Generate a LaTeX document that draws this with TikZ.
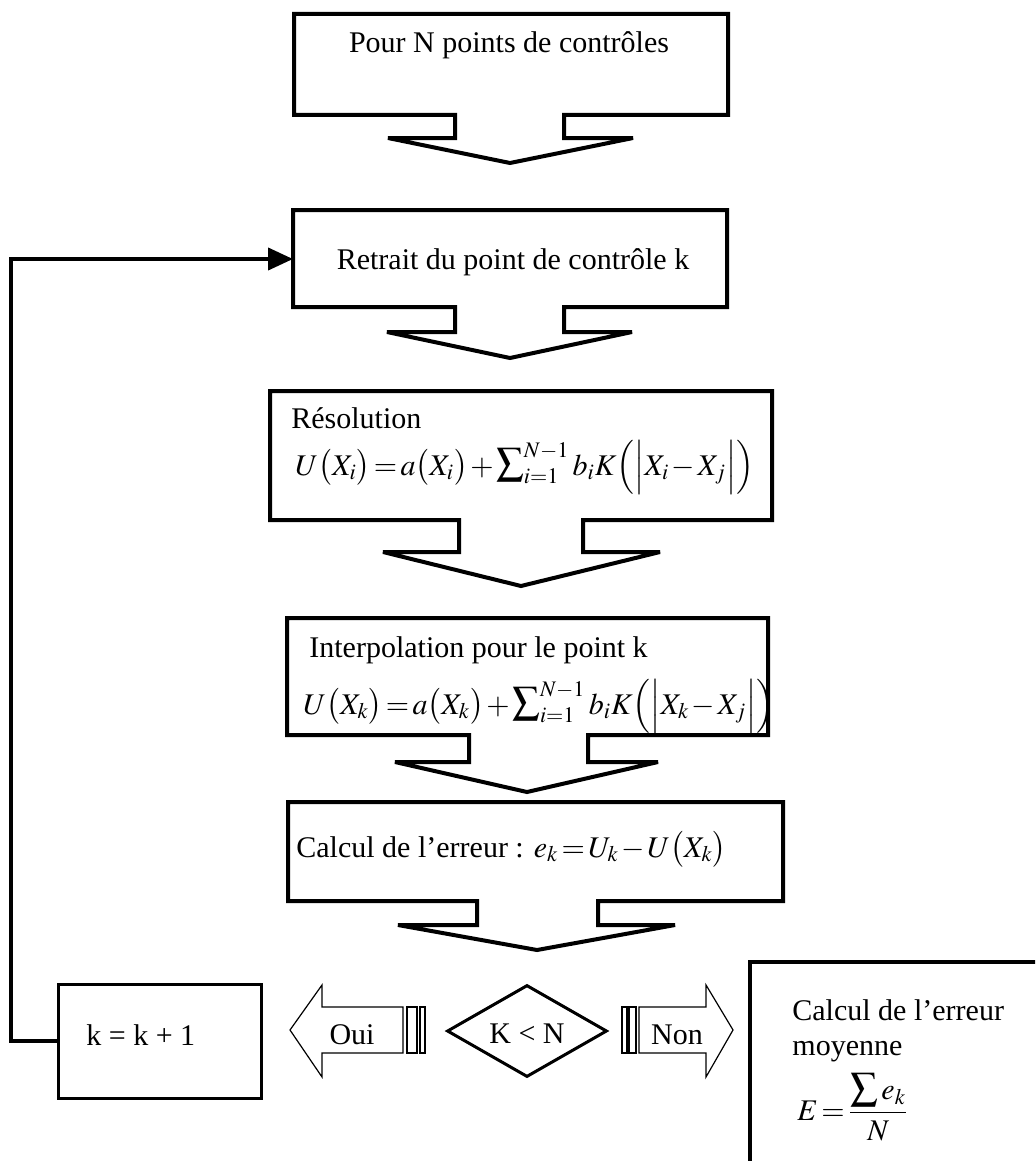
\documentclass[tikz,border=0pt]{standalone}
\usepackage{mathptmx}
\usepackage{fontspec}
\setmainfont{Liberation Serif}
\usetikzlibrary{arrows.meta,shapes.geometric}

% tighter relation and operator spacing for the formulas
\newcommand{\tightmath}{\thickmuskip=2mu\medmuskip=1.5mu}
\newcommand{\bigsum}{\mathop{\scalebox{1.3}{$\sum$}}}

\begin{document}
\begin{tikzpicture}[x=0.5pt,y=-0.5pt,
  flow/.style={line width=2pt, line join=miter, miter limit=3},
  txt/.style={font=\fontsize{15pt}{18pt}\selectfont, inner sep=0pt},
  stripe/.style={line width=0.6pt, line join=miter},
]
\useasboundingbox (0,0) rectangle (1035,1161);
\clip (0,0) rectangle (1035,1161);

% --- process boxes with their built-in down arrows ---
\draw[flow] (294,14) -- (728,14) -- (728,115) -- (564,115) -- (564,138) -- (633,138)
  -- (510,163) -- (388,138) -- (455,138) -- (455,115) -- (294,115) -- cycle;
\node[txt, anchor=base] (init) at (509,53) {Pour N points de contrôles};

\draw[flow] (293,210) -- (727,210) -- (727,307) -- (564,307) -- (564,332) -- (632,332)
  -- (510,358) -- (387,332) -- (455,332) -- (455,307) -- (293,307) -- cycle;
\node[txt, anchor=base] (remove) at (513,269) {Retrait du point de contrôle k};
\coordinate (b2w) at (293,259);

\draw[flow] (270,391) -- (772,391) -- (772,520) -- (583,520) -- (583,552) -- (660,552)
  -- (521,586) -- (383,552) -- (459,552) -- (459,520) -- (270,520) -- cycle;
\node[txt, anchor=base west] (solve) at (291,428) {Résolution};
\node[txt, anchor=base west] (solveeq) at (295,475)
  {$\tightmath U\bigl(X_{i}\bigr)=a\bigl(X_{i}\bigr)+\bigsum\nolimits_{i=1}^{N-1} b_{i}K\Bigl(\Bigl|X_{i}-X_{j}\Bigr|\Bigr)$};

\draw[flow] (287,618) -- (768,618) -- (768,735) -- (588,735) -- (588,762) -- (658,762)
  -- (527,792) -- (395,762) -- (469,762) -- (469,735) -- (287,735) -- cycle;
\node[txt, anchor=base west] (interp) at (309,657) {Interpolation pour le point k};
\node[txt, anchor=base west] (interpeq) at (303,714)
  {$\tightmath U\bigl(X_{k}\bigr)=a\bigl(X_{k}\bigr)+\bigsum\nolimits_{i=1}^{N-1} b_{i}K\Bigl(\Bigl|X_{k}-X_{j}\Bigr|\Bigr)$};

\draw[flow] (288,802) -- (783,802) -- (783,901) -- (598,901) -- (598,925) -- (675,925)
  -- (537,950) -- (398,925) -- (477,925) -- (477,901) -- (288,901) -- cycle;
\node[txt, anchor=base west] (err) at (296,857)
  {Calcul de l’erreur : $\tightmath e_{k}=U_{k}-U\bigl(X_{k}\bigr)$};

% --- decision ---
\node[draw, diamond, line width=1.5pt, minimum width=80pt, minimum height=46pt, inner sep=0pt]
  (test) at (527,1031) {};
\node[txt, anchor=base] (testtxt) at (527,1043) {K < N};

% --- striped arrows ---
\draw[stripe] (290,1030) -- (322,985) -- (322,1007) -- (403,1007) -- (403,1053)
  -- (322,1053) -- (322,1077) -- cycle;
\draw[stripe] (407,1007) rectangle (417,1053);
\draw[stripe] (420,1007) rectangle (425,1053);
\node[txt, anchor=base] (oui) at (352,1044) {Oui};

\draw[stripe] (733,1030) -- (706,985) -- (706,1007) -- (639,1007) -- (639,1053)
  -- (706,1053) -- (706,1077) -- cycle;
\draw[stripe] (622,1007) rectangle (627,1053);
\draw[stripe] (629,1007) rectangle (636,1053);
\node[txt, anchor=base] (non) at (677,1044) {Non};

% --- increment and loop back ---
\node[draw, line width=1.5pt, minimum width=101.5pt, minimum height=57pt, inner sep=0pt]
  (kbox) at (159.5,1041) {};
\node[txt, anchor=base west] (kinc) at (86,1045) {k = k + 1};
\draw[flow, -{Triangle[length=12.5pt,width=11pt]}] (kbox.west) -- ++(-46,0) |- (b2w);

% --- final result ---
\draw[flow] (1045,962) -- (750,962) -- (750,1175);
\node[txt, anchor=base west] (mean) at (792,1020) {Calcul de l’erreur};
\node[txt, anchor=base west] (mean2) at (792,1055) {moyenne};
\node[txt, anchor=base west] (meaneq) at (797,1120)
  {$\tightmath E=\displaystyle\frac{\bigsum e_{k}}{N}$};
\end{tikzpicture}
\end{document}
